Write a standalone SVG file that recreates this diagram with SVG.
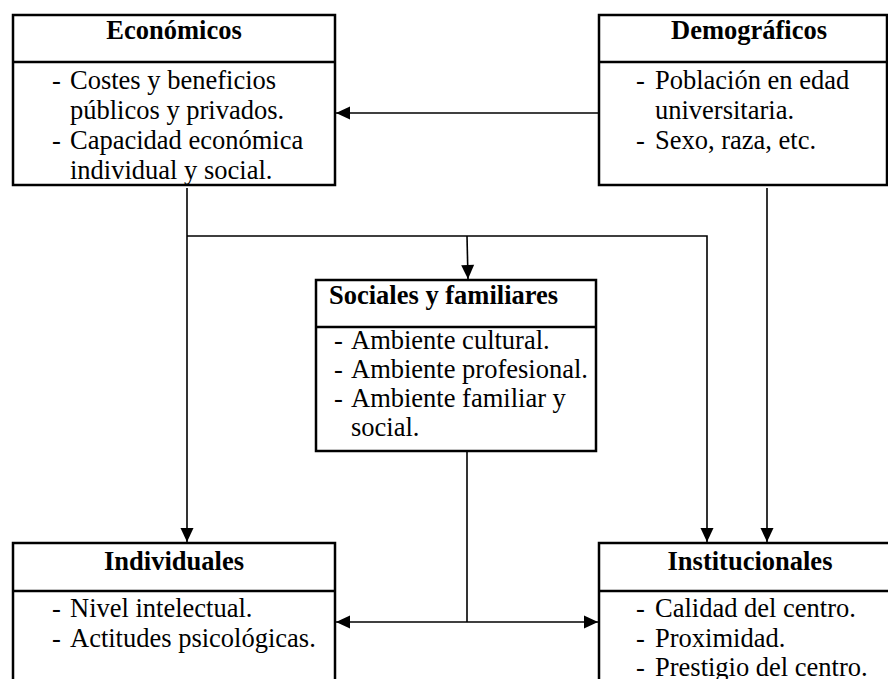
<svg xmlns="http://www.w3.org/2000/svg" width="888" height="679" viewBox="0 0 888 679">
<style>
  .box { fill: #fff; stroke: #000; stroke-width: 2.5; }
  .div { stroke: #000; stroke-width: 2.5; }
  .t { font-family: "Liberation Serif", "Times New Roman", serif; font-size: 26.5px; fill: #000; }
  .h { font-weight: bold; }
  .c { text-anchor: middle; }
  .ln { fill: none; stroke: #000; stroke-width: 1.6; }
</style>
<defs>
  <marker id="ah" markerUnits="userSpaceOnUse" markerWidth="16" markerHeight="16" viewBox="0 0 16 16" refX="15" refY="8" orient="auto">
    <path d="M1,1.5 L15,8 L1,14.5 Z" fill="#000"/>
  </marker>
</defs>
<rect width="888" height="679" fill="#fff"/>

<g id="connectors">
  <path class="ln" d="M599,113 L336,113" marker-end="url(#ah)"/>
  <path class="ln" d="M187,188 L187,542" marker-end="url(#ah)"/>
  <path class="ln" d="M187,236 L707,236 L707,542" marker-end="url(#ah)"/>
  <path class="ln" d="M467,236 L468,279" marker-end="url(#ah)"/>
  <path class="ln" d="M767,188 L767,542" marker-end="url(#ah)"/>
  <path class="ln" d="M467,451 L467,622"/>
  <path class="ln" d="M467,622 L336,622" marker-end="url(#ah)"/>
  <path class="ln" d="M467,622 L598,622" marker-end="url(#ah)"/>
</g>

<g id="economicos">
  <rect class="box" x="13" y="15" width="322" height="170"/>
  <line class="div" x1="13" y1="62" x2="335" y2="62"/>
  <text class="t h c" x="174" y="39">Económicos</text>
  <text class="t" x="52" y="89">-</text><text class="t" x="70" y="89">Costes y beneficios</text>
  <text class="t" x="70" y="119">públicos y privados.</text>
  <text class="t" x="52" y="149">-</text><text class="t" x="70" y="149">Capacidad económica</text>
  <text class="t" x="70" y="179">individual y social.</text>
</g>

<g id="demograficos">
  <rect class="box" x="599" y="15" width="288" height="170"/>
  <line class="div" x1="599" y1="62" x2="887" y2="62"/>
  <text class="t h c" x="749" y="39">Demográficos</text>
  <text class="t" x="636" y="89">-</text><text class="t" x="655" y="89">Población en edad</text>
  <text class="t" x="655" y="119">universitaria.</text>
  <text class="t" x="636" y="149">-</text><text class="t" x="655" y="149">Sexo, raza, etc.</text>
</g>

<g id="sociales">
  <rect class="box" x="316" y="280" width="280" height="171"/>
  <line class="div" x1="316" y1="327" x2="596" y2="327"/>
  <text class="t h" x="329" y="304">Sociales y familiares</text>
  <text class="t" x="334" y="349">-</text><text class="t" x="351" y="349">Ambiente cultural.</text>
  <text class="t" x="334" y="378">-</text><text class="t" x="351" y="378">Ambiente profesional.</text>
  <text class="t" x="334" y="407">-</text><text class="t" x="351" y="407">Ambiente familiar y</text>
  <text class="t" x="351" y="436">social.</text>
</g>

<g id="individuales">
  <rect class="box" x="13" y="543" width="322" height="150"/>
  <line class="div" x1="13" y1="591" x2="335" y2="591"/>
  <text class="t h c" x="174" y="570">Individuales</text>
  <text class="t" x="52" y="617">-</text><text class="t" x="70" y="617">Nivel intelectual.</text>
  <text class="t" x="52" y="647">-</text><text class="t" x="70" y="647">Actitudes psicológicas.</text>
</g>

<g id="institucionales">
  <rect class="box" x="599" y="543" width="300" height="150"/>
  <line class="div" x1="599" y1="591" x2="899" y2="591"/>
  <text class="t h c" x="750" y="570">Institucionales</text>
  <text class="t" x="636" y="617">-</text><text class="t" x="655" y="617">Calidad del centro.</text>
  <text class="t" x="636" y="647">-</text><text class="t" x="655" y="647">Proximidad.</text>
  <text class="t" x="636" y="676">-</text><text class="t" x="655" y="676">Prestigio del centro.</text>
</g>
</svg>
